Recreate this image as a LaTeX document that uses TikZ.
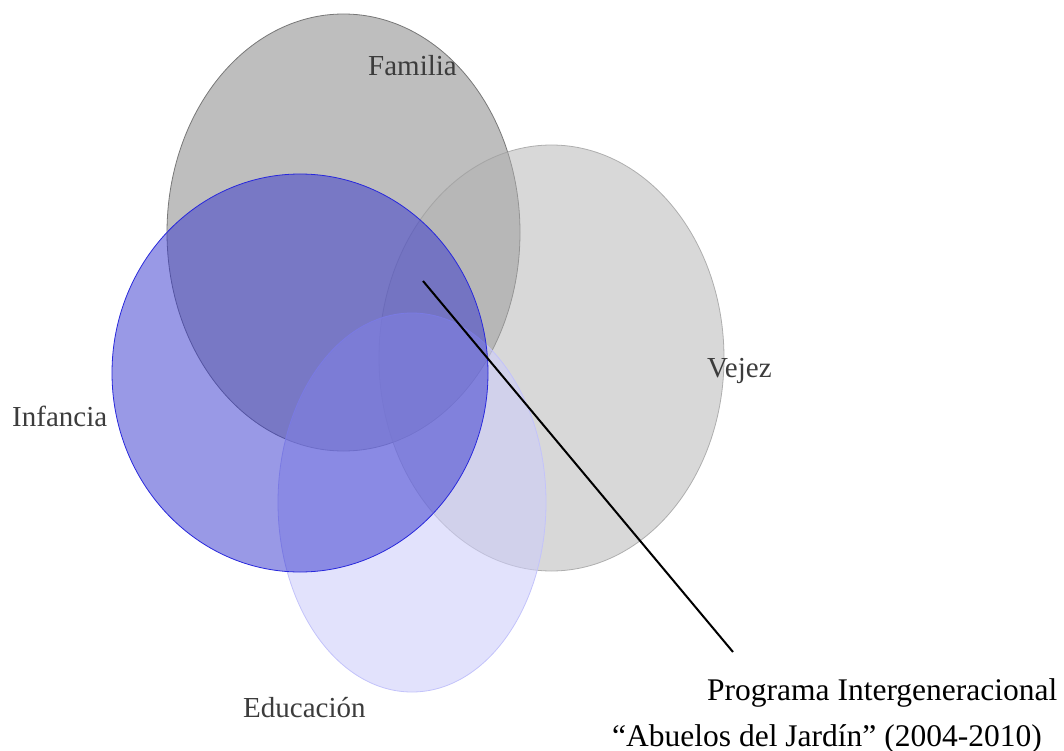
\documentclass[tikz,border=0pt]{standalone}
\usepackage{fontspec}
\setmainfont{Liberation Serif}
\usetikzlibrary{shapes.geometric}
\definecolor{famfill}{RGB}{190,190,190}
\definecolor{famline}{RGB}{120,120,120}
\definecolor{vejfill}{RGB}{178,178,178}
\definecolor{vejline}{RGB}{160,160,160}
\definecolor{inffill}{RGB}{51,51,205}
\definecolor{infline}{RGB}{40,40,220}
\definecolor{edufill}{RGB}{205,205,250}
\definecolor{eduline}{RGB}{195,195,250}
\definecolor{labelgray}{RGB}{60,60,60}
\tikzset{
  blob/.style={ellipse, inner sep=0pt, line width=0.8pt},
  lab/.style={anchor=base west, inner sep=0pt, text=labelgray, font=\fontsize{29}{34}\selectfont},
  prog/.style={anchor=base west, inner sep=0pt, text=black, font=\fontsize{31.5}{36}\selectfont},
  leader/.style={draw=black, line width=2pt}
}
\begin{document}
\begin{tikzpicture}[x=1pt,y=-1pt]
\useasboundingbox (0,0) rectangle (1064,751);
\node[blob, fill=famfill, draw=famline, minimum width=353pt, minimum height=437pt] (fam) at (343.5,232.5) {};
\node[blob, fill=vejfill, fill opacity=0.5, draw=vejline, draw opacity=0.8, minimum width=345pt, minimum height=426pt] (vej) at (551.5,358) {};
\node[blob, fill=edufill, fill opacity=0.58, draw=eduline, minimum width=268pt, minimum height=379pt] (edu) at (412,502.5) {};
\node[blob, fill=inffill, fill opacity=0.5, draw=infline, minimum width=376pt, minimum height=398pt] (inf) at (300,373) {};
\node[lab] (tfam) at (368,76) {Familia};
\node[lab] (tvej) at (707,377) {Vejez};
\node[lab] (tinf) at (12,426) {Infancia};
\node[lab] (tedu) at (243,717) {Educación};
\node[prog] (tprog) at (707,700) {Programa Intergeneracional};
\node[prog] (tabu) at (612,746) {“Abuelos del Jardín” (2004-2010)};
\coordinate (lstart) at (423,281);
\coordinate (lend) at (733,652);
\draw[leader] (lstart) -- (lend);
\end{tikzpicture}
\end{document}
